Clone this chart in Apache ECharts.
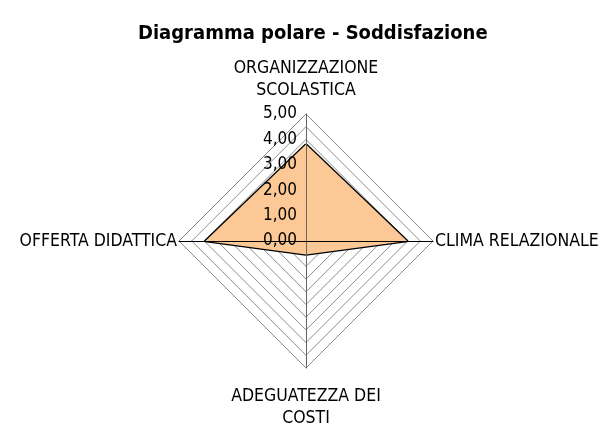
<!DOCTYPE html>
<html>
<head>
<meta charset="utf-8">
<script src="https://cdn.jsdelivr.net/npm/echarts@6/dist/echarts.min.js"></script>
<style>
  html, body { margin: 0; padding: 0; background: #fff; }
  #chart { width: 600px; height: 425px; }
</style>
</head>
<body>
<div id="chart"></div>
<script>
// indicators listed counterclockwise from the top, like ECharts draws them
const indicatorNames = [
  "ORGANIZZAZIONE\nSCOLASTICA",
  "OFFERTA DIDATTICA",
  "ADEGUATEZZA DEI\nCOSTI",
  "CLIMA RELAZIONALE",
];
const satisfaction = [3.8, 3.96, 0.53, 3.98];
const scaleMin = 0;
const scaleMax = 5;
const scaleSplits = 10;

const FONT = "'DejaVu Sans Condensed', 'DejaVu Sans', sans-serif";
const CENTER = [306, 241];
const RADIUS = 127;

// per-indicator gap between the outer vertex and its name
const nameGaps = [13, 2, 17, 2];
// axis line colour through the centre: vertical grey, horizontal black
const axisColors = ["#666666", "#000000", "#666666", "#000000"];

function formatTick(value) {
  if (value % 1 !== 0) {
    return "";
  }
  return Number(value).toFixed(2).replace(".", ",");
}

const chart = echarts.init(document.getElementById("chart"));

chart.setOption({
  animation: false,
  title: {
    text: "Diagramma polare - Soddisfazione",
    left: 133,
    top: 19,
    textStyle: {
      fontFamily: FONT,
      fontSize: 20,
      fontWeight: "bold",
      color: "#000",
    },
  },
  radar: [
    {
      // grid rings and indicator names, under the series
      z: 1,
      center: CENTER,
      radius: RADIUS,
      shape: "polygon",
      splitNumber: scaleSplits,
      startAngle: 90,
      indicator: indicatorNames.map((name, index) => {
        return {
          name,
          min: scaleMin,
          max: scaleMax,
          nameGap: nameGaps[index],
        };
      }),
      axisName: {
        color: "#000",
        fontFamily: FONT,
        fontSize: 17.5,
        lineHeight: 22,
      },
      axisLine: { show: false },
      axisTick: { show: false },
      axisLabel: { show: false },
      splitArea: { show: false },
      splitLine: {
        lineStyle: {
          color: "#8c8c8c",
          width: 1,
        },
      },
    },
    {
      // axis lines and value labels, drawn on top of the fill
      z: 3,
      center: CENTER,
      radius: RADIUS,
      shape: "polygon",
      splitNumber: scaleSplits,
      startAngle: 90,
      indicator: indicatorNames.map((name, index) => {
        return {
          name: "",
          min: scaleMin,
          max: scaleMax,
          axisLine: {
            show: true,
            lineStyle: {
              color: axisColors[index],
              width: 1,
            },
          },
          axisLabel: {
            show: index === 0,
            formatter: formatTick,
            color: "#000",
            fontFamily: FONT,
            fontSize: 17,
            margin: 9,
          },
        };
      }),
      axisName: { show: false },
      axisTick: { show: false },
      axisLabel: { show: false },
      splitLine: { show: false },
      splitArea: { show: false },
    },
  ],
  series: [
    {
      name: "Soddisfazione",
      type: "radar",
      radarIndex: 0,
      z: 2,
      symbol: "none",
      lineStyle: {
        color: "#000",
        width: 2.5,
      },
      areaStyle: {
        color: "#fcc996",
        opacity: 1,
      },
      data: [
        {
          value: satisfaction,
          name: "Soddisfazione",
        },
      ],
    },
  ],
});
</script>
</body>
</html>
